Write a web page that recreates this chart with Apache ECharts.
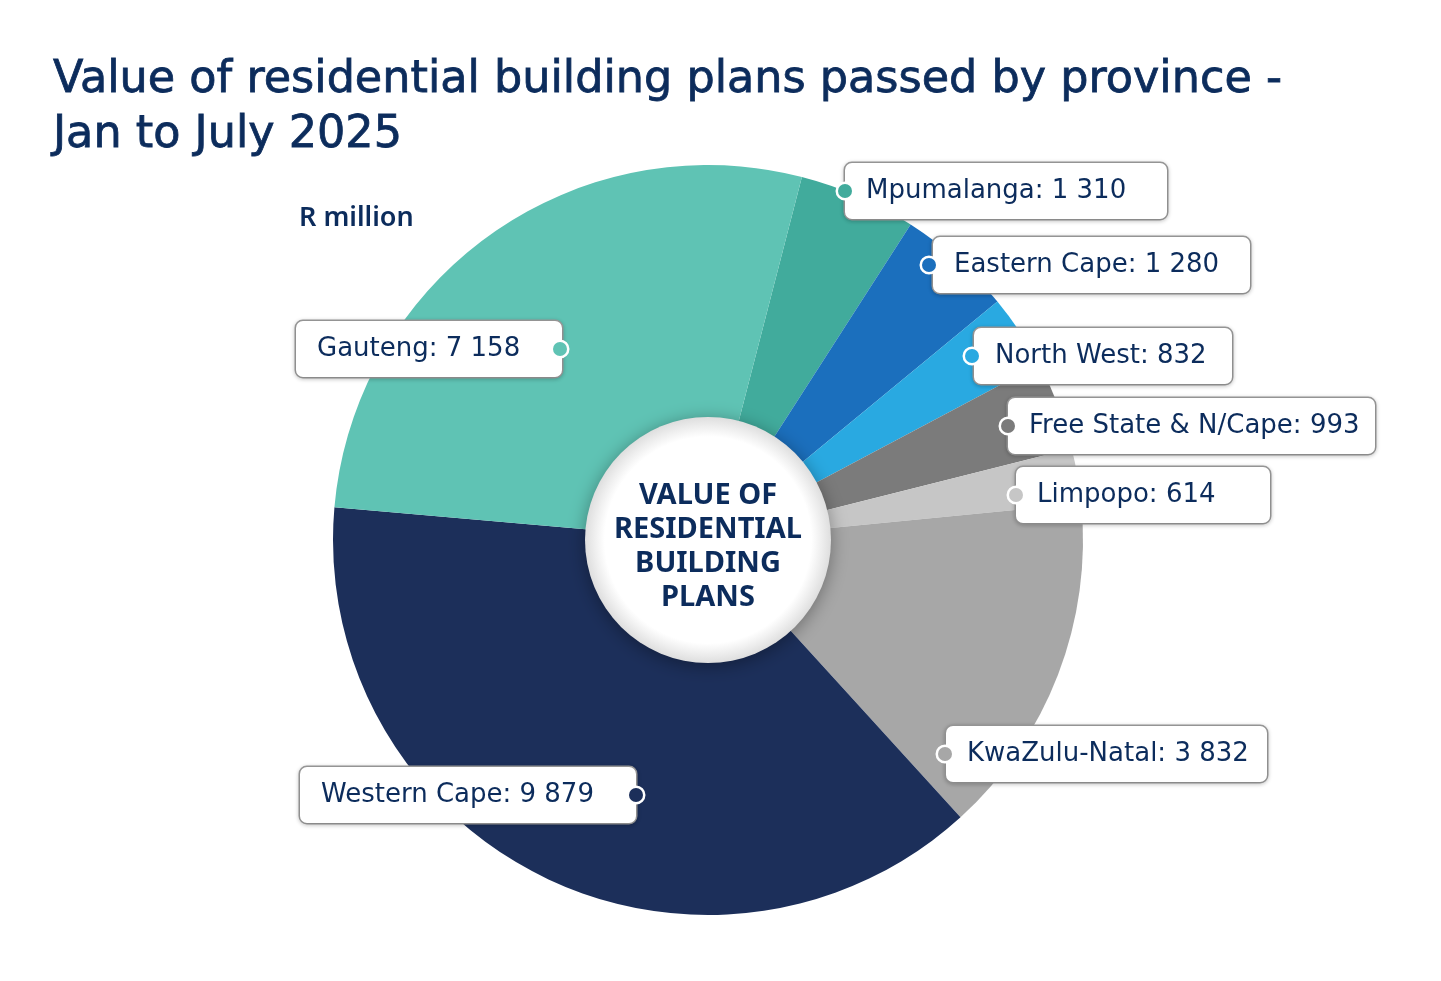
<!DOCTYPE html>
<html><head><meta charset="utf-8">
<script src="https://cdn.jsdelivr.net/npm/echarts@6.0.0/dist/echarts.min.js"></script>
<style>html,body{margin:0;padding:0;background:#fff}#c{width:1441px;height:981px}</style>
</head><body><div id="c"></div>
<script>
// ---- data ----
const provinces = ['Mpumalanga','Eastern Cape','North West','Free State & N/Cape','Limpopo','KwaZulu-Natal','Western Cape','Gauteng'];
const values = [1310,1280,832,993,614,3832,9879,7158];
const valueLabels = ['1 310','1 280','832','993','614','3 832','9 879','7 158'];
// ---- styles / layout ----
const colors = ['#41ab9c','#1b6fbd','#29a9e1','#7b7b7b','#c6c6c6','#a7a7a7','#1c2f5a','#5fc3b4'];
// [box left x, box center y, box width, dot x]
const boxLayout = [
  [845,191,322,845],
  [933,265,317,929],
  [974,356,258,972],
  [1008,426,367,1008],
  [1016,495,254,1016],
  [946,754,321,945],
  [300,795,336,636],
  [296,349,266,560]
];
const NAVY = '#0c2c5c';
const FONT = 'Noto Sans';
const WIDE = 'DejaVu Sans';
const CX = 708, CY = 540, R = 375;

const pieData = provinces.map((p,i)=>({
  name:p, value:values[i],
  itemStyle:{color:colors[i]},
  label:{width: boxLayout[i][2]-21}
}));
const dotData = provinces.map((p,i)=>({
  name:p, value:values[i],
  itemStyle:{color:'rgba(0,0,0,0)'},
  label:{backgroundColor:colors[i]}
}));

const chart = echarts.init(document.getElementById('c'), null, {renderer:'canvas'});
chart.setOption({
  backgroundColor:'#fff',
  animation:false,
  title:[
    {text:'Value of residential building plans passed by province -\nJan to July 2025',
     left:48, top:48,
     textStyle:{fontFamily:WIDE, fontSize:44.5, fontWeight:'normal', lineHeight:55, color:NAVY,
                textBorderColor:NAVY, textBorderWidth:0.8}},
    {text:'R million', left:294, top:200,
     textStyle:{fontFamily:FONT, fontSize:27, fontWeight:600, color:NAVY}}
  ],
  series:[
    {
      type:'pie', z:2, center:[CX,CY], radius:[0,R], startAngle:75.5, clockwise:true,
      avoidLabelOverlap:false, silent:true, emphasis:{disabled:true},
      data:pieData,
      labelLine:{show:false},
      label:{
        show:true, position:'outside',
        formatter:(p)=>p.name+': '+valueLabels[p.dataIndex],
        fontFamily:WIDE, fontSize:26, color:NAVY, lineHeight:30,
        backgroundColor:'#fff', borderColor:'#9b9b9b', borderWidth:1.5, borderRadius:7,
        padding:[13,0,13,21], overflow:'none', align:'left',
        shadowColor:'rgba(0,0,0,0.18)', shadowBlur:4, shadowOffsetY:1
      },
      labelLayout:(params)=>{
        const b = boxLayout[params.dataIndex];
        return {x:b[0], y:b[1], align:'left', verticalAlign:'middle', moveOverlap:false};
      }
    },
    {
      type:'pie', z:3, center:[CX,CY], radius:[0,R], startAngle:75.5, clockwise:true,
      avoidLabelOverlap:false, silent:true, emphasis:{disabled:true},
      data:dotData,
      labelLine:{show:false},
      label:{
        show:true, position:'outside', formatter:' ', fontSize:2,
        width:14, height:14, borderRadius:10, borderColor:'#fff', borderWidth:2.5, padding:0
      },
      labelLayout:(params)=>{
        const b = boxLayout[params.dataIndex];
        return {x:b[3], y:b[1], align:'center', verticalAlign:'middle'};
      }
    },
    {
      type:'pie', z:4, center:[CX,CY], radius:[0,123], silent:true, emphasis:{disabled:true},
      data:[{value:1, name:'center'}],
      itemStyle:{
        color:{type:'radial', x:0.5, y:0.5, r:0.5, colorStops:[
          {offset:0,color:'#ffffff'},{offset:0.84,color:'#ffffff'},
          {offset:0.92,color:'#efefef'},{offset:1,color:'#dedede'}]},
        shadowBlur:18, shadowColor:'rgba(0,0,0,0.35)', shadowOffsetY:3
      },
      labelLine:{show:false},
      label:{
        show:true, position:'center', formatter:'VALUE OF\nRESIDENTIAL\nBUILDING\nPLANS',
        fontFamily:FONT, fontSize:29, fontWeight:700, lineHeight:34, color:NAVY
      },
      labelLayout:()=>({dy:7})
    }
  ]
});
</script></body></html>
